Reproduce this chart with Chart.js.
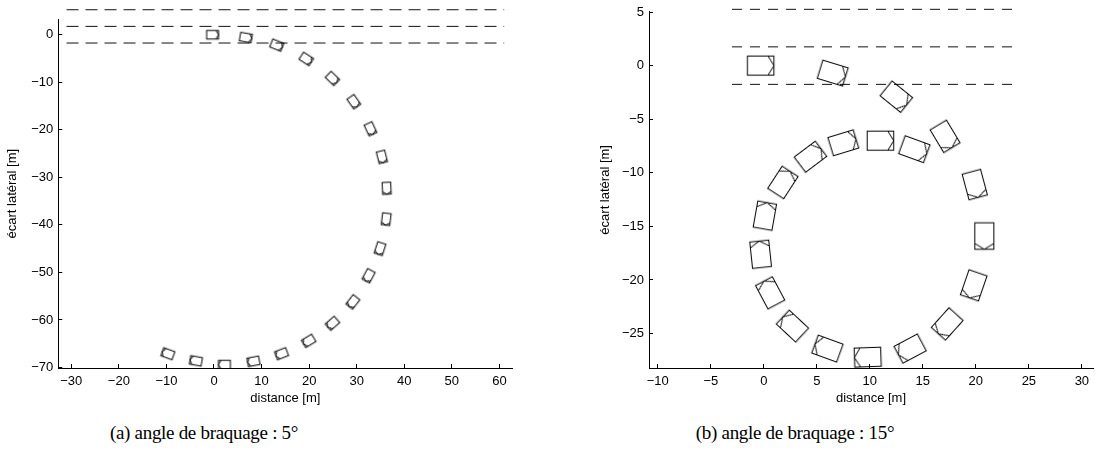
<!DOCTYPE html>
<html>
<head>
<meta charset="utf-8">
<script src="https://cdn.jsdelivr.net/npm/chart.js@4.4.1/dist/chart.umd.min.js"></script>
<style>
  body { margin: 0; background: #fff; width: 1098px; height: 466px; position: relative; overflow: hidden; }
  canvas { position: absolute; top: 0; }
  #chartA { left: 0; }
  #chartB { left: 540px; }
  .caption { position: absolute; top: 422px; font-family: "Liberation Serif", serif; font-size: 19px; letter-spacing: -0.3px; color: #000; white-space: nowrap; transform: translateX(-50%); }
</style>
</head>
<body>
<canvas id="chartA" width="540" height="410"></canvas>
<canvas id="chartB" width="558" height="410"></canvas>
<div class="caption" style="left:204px">(a) angle de braquage : 5°</div>
<div class="caption" style="left:795px">(b) angle de braquage : 15°</div>
<script>
// lane markings (same for both plots)
const laneY = [5.25, 1.75, -1.75];
const laneXA = [-31, 61];
const laneXB = [-3, 24];

// (a) steering angle 5 deg : vehicle centre and heading (deg)
const vehXA = [-0.3, 6.7, 13.2, 19.4, 24.9, 29.4, 32.9, 35.3, 36.3, 36.2, 34.9, 32.5, 29.2, 24.9, 19.9, 14.2, 8.3, 2.2, -3.8, -9.7];
const vehYA = [0, -0.6, -2.2, -5.1, -9.2, -14.1, -19.8, -25.7, -32.3, -38.8, -45.0, -50.7, -56.2, -60.7, -64.4, -67.1, -68.7, -69.4, -68.6, -67.1];
const headA = [0, -10, -22, -33, -44, -55, -65, -76, -87, -97, -108, -118, -128, -139, -149, -159, -169, 180, 170, 160];

// (b) steering angle 15 deg
const vehXB = [-0.3, 6.5, 12.5, 17.1, 19.9, 20.8, 19.8, 17.3, 13.8, 9.8, 6.0, 2.7, 0.6, -0.3, 0.1, 1.8, 4.4, 7.5, 11.0, 14.2];
const vehYB = [0, -0.7, -2.9, -6.6, -11.1, -15.9, -20.5, -24.1, -26.4, -27.2, -26.4, -24.3, -21.2, -17.6, -14.0, -10.9, -8.5, -7.2, -7.0, -7.8];
const headB = [0, -17, -39, -59, -75, -90, -109, -132, -152, -178, 160, 137, 118, 96, 80, 57, 37, 17, 0, -20];

// vehicle size [m]
const VEH_LEN = 2.5;
const VEH_WID = 1.8;

// Draw a vehicle outline (pointing right) on a small canvas, used as point style
function vehicleIcon(len, wid) {
    const c = document.createElement('canvas');
    c.width = Math.ceil(len) + 4;
    c.height = Math.ceil(wid) + 4;
    const g = c.getContext('2d');
    g.translate(c.width / 2, c.height / 2);
    g.strokeStyle = '#000';
    g.lineWidth = 1;
    g.strokeRect(-len / 2, -wid / 2, len, wid);
    g.beginPath();
    g.moveTo(len / 2 - 0.22 * len, -wid / 2);
    g.lineTo(len / 2, 0);
    g.lineTo(len / 2 - 0.22 * len, wid / 2);
    g.stroke();
    return c;
}

function minusLabel(v) {
    return v < 0 ? '\u2212' + Math.abs(v) : String(v);
}

function createChart(element, cfg) {
    const datasets = [{
        data: cfg.vx.map((x, i) => ({x: x, y: cfg.vy[i]})),
        showLine: false,
        pointRadius: 1,
        pointStyle: 'rect',
        pointRotation: cfg.head.map(h => -h)
    }];
    laneY.forEach(y => {
        datasets.push({
            data: [{x: cfg.laneX[0], y: y}, {x: cfg.laneX[1], y: y}],
            showLine: true,
            pointRadius: 0,
            borderColor: '#111',
            borderWidth: 1,
            borderDash: cfg.dash,
            clip: false
        });
    });

    const tickFont = {family: '"Liberation Sans", Arial, sans-serif', size: 13};
    let ctx = document.getElementById(element).getContext('2d');
    const chart = new Chart(ctx, {
        type: 'scatter',
        data: {datasets: datasets},
        options: {
            responsive: false,
            animation: false,
            events: [],
            layout: {padding: cfg.padding},
            plugins: {legend: {display: false}, tooltip: {enabled: false}},
            scales: {
                x: {
                    type: 'linear',
                    min: cfg.xMin,
                    max: cfg.xMax,
                    border: {color: '#000', width: 1},
                    grid: {drawOnChartArea: false, tickLength: -4, color: '#000'},
                    ticks: {stepSize: cfg.xStep, includeBounds: false, padding: 10, color: '#000',
                            font: tickFont, maxRotation: 0, autoSkip: false, callback: minusLabel},
                    title: {display: true, text: 'distance [m]', color: '#000', font: tickFont,
                            padding: {top: 0, bottom: 4}},
                    afterFit: s => { s.height = 42; s.paddingLeft = 0; s.paddingRight = 0; }
                },
                y: {
                    type: 'linear',
                    min: cfg.yMin,
                    max: cfg.yMax,
                    border: {color: '#000', width: 1},
                    grid: {drawOnChartArea: false, tickLength: -4, color: '#000'},
                    ticks: {stepSize: cfg.yStep, includeBounds: false, padding: 9, color: '#000',
                            font: tickFont, autoSkip: false, callback: minusLabel},
                    title: {display: true, text: 'écart latéral [m]', color: '#000', font: tickFont,
                            padding: {top: cfg.yTitlePad, bottom: 0}},
                    afterFit: s => { s.width = cfg.yWidth; s.paddingTop = 0; s.paddingBottom = 0; }
                }
            }
        }
    });

    // vehicle size in pixels from the x scale
    const px = chart.scales.x.getPixelForValue(1) - chart.scales.x.getPixelForValue(0);
    chart.data.datasets[0].pointStyle = vehicleIcon(VEH_LEN * px, VEH_WID * px);
    chart.update('none');
    return chart;
}

try {
    createChart('chartA', {
        vx: vehXA, vy: vehYA, head: headA, laneX: laneXA, dash: [12, 7],
        xMin: -32.73, xMax: 62.71, xStep: 10,
        yMin: -70.1, yMax: 3.24, yStep: 10,
        yWidth: 58.3, yTitlePad: 5,
        padding: {left: 0, top: 19.3, right: 27.7, bottom: 0}
    });
    createChart('chartB', {
        vx: vehXB, vy: vehYB, head: headB, laneX: laneXB, dash: [10, 8],
        xMin: -10.83, xMax: 31.05, xStep: 5,
        yMin: -28.21, yMax: 5.03, yStep: 5,
        yWidth: 109, yTitlePad: 58,
        padding: {left: 0, top: 11.7, right: 0, bottom: 0}
    });
} catch (error) {
    console.log(error);
}
</script>
</body>
</html>
